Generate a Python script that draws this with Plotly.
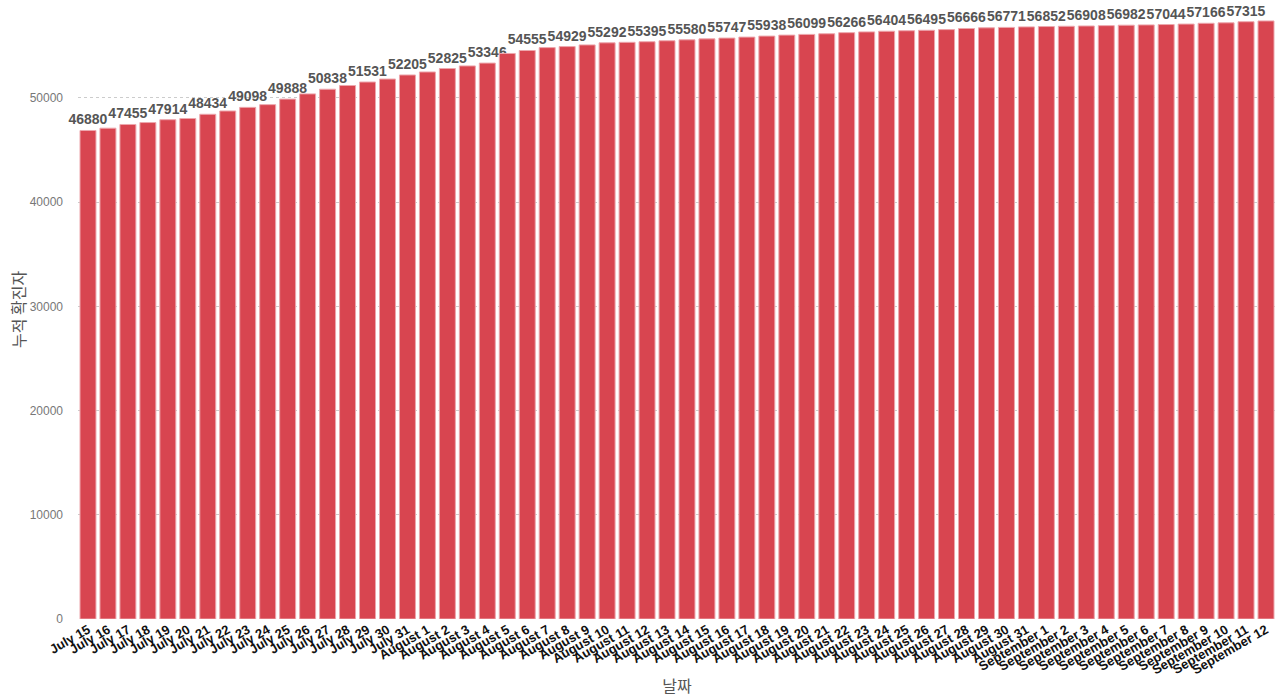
import plotly.graph_objects as go

dates = (["July %d" % d for d in range(15, 32)]
         + ["August %d" % d for d in range(1, 32)]
         + ["September %d" % d for d in range(1, 13)])

cases = [46880, 47100, 47455, 47640, 47914, 48030, 48434, 48750, 49098, 49360,
         49888, 50390, 50838, 51195, 51531, 51815, 52205, 52495, 52825, 53075,
         53346, 54270, 54555, 54830, 54929, 55090, 55292, 55340, 55395, 55490,
         55580, 55670, 55747, 55840, 55938, 56030, 56099, 56160, 56266, 56340,
         56404, 56450, 56495, 56560, 56666, 56730, 56771, 56820, 56852, 56880,
         56908, 56940, 56982, 57010, 57044, 57090, 57166, 57210, 57315, 57390]

y_ticks = [0, 10000, 20000, 30000, 40000, 50000]

# only every other bar gets a value label, like the original
labels = [str(v) if i % 2 == 0 else "" for i, v in enumerate(cases)]

fig = go.Figure(go.Bar(
    x=dates, y=cases,
    text=labels, textposition="outside", constraintext="none", cliponaxis=False,
    textfont=dict(family="Liberation Sans", size=14, color="#555555", weight="bold"),
    marker=dict(color="#D84550", line=dict(color="#eda7ad", width=1)),
))

fig.update_layout(
    width=1276, height=698,
    margin=dict(l=78, r=0, t=0, b=79),
    plot_bgcolor="white", paper_bgcolor="white",
    font=dict(family="Liberation Sans, Noto Sans CJK KR", color="#666666"),
    bargap=0.2,
    showlegend=False,
)
fig.update_xaxes(
    title=dict(text="날짜", font=dict(family="Noto Sans CJK KR", size=16, color="#555555"), standoff=4),
    tickangle=-30, automargin=False,
    tickfont=dict(family="Liberation Sans", size=13, color="#111111", weight="bold"),
    showgrid=False, showline=False, zeroline=False, ticks="",
)
fig.update_yaxes(
    title=dict(text="누적 확진자", font=dict(family="Noto Sans CJK KR", size=16, color="#555555"), standoff=0),
    range=[0, 59400], tickvals=y_ticks, tickformat="d", automargin=False,
    tickfont=dict(size=12, color="#777777"), ticklabelstandoff=14,
    showgrid=True, gridcolor="#cccccc", griddash="dot", gridwidth=1,
    zeroline=False, showline=False,
)

# page body has a default 8px margin; drop it so the figure fills the window
fig.write_html("out.html", config={"displayModeBar": False},
               post_script="document.body.style.margin='0';")
